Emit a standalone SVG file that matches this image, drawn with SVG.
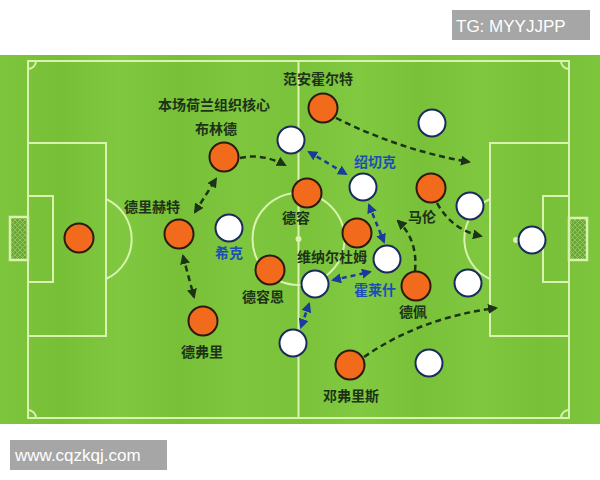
<svg xmlns="http://www.w3.org/2000/svg" width="600" height="480" viewBox="0 0 600 480">
<defs>
<style>
.line{fill:none;stroke:#d9f2b0;stroke-width:2}
.or{fill:#f26b1d;stroke:#2b1a0e;stroke-width:2}
.wh{fill:#ffffff;stroke:#1b2a5c;stroke-width:2}
.lbl{font-family:"Noto Sans CJK SC","Noto Sans",sans-serif;font-weight:bold;font-size:14px;fill:#1d3317;text-anchor:middle}
.blu{fill:#1b4fb5}
.ar{fill:none;stroke:#1d3317;stroke-width:2.5;stroke-dasharray:6 4}
.ab{fill:none;stroke:#1b3a9c;stroke-width:2.5;stroke-dasharray:5 4}
.wm{font-family:"Liberation Sans",Arial,sans-serif;font-size:17px;fill:#ffffff}
</style>
<marker id="ha" viewBox="0 0 10 10" refX="8" refY="5" markerWidth="4" markerHeight="4" orient="auto-start-reverse" markerUnits="strokeWidth">
<path d="M0,0 L10,5 L0,10 z" fill="#1d3317"/>
</marker>
<marker id="hb" viewBox="0 0 10 10" refX="8" refY="5" markerWidth="4" markerHeight="4" orient="auto-start-reverse" markerUnits="strokeWidth">
<path d="M0,0 L10,5 L0,10 z" fill="#1b3a9c"/>
</marker>
<pattern id="net" width="5" height="5" patternUnits="userSpaceOnUse">
<rect width="5" height="5" fill="#6aa83a"/>
<path d="M0,0 L5,5 M5,0 L0,5" stroke="#9ccc5c" stroke-width="0.8"/>
</pattern>
<linearGradient id="stripes" x1="0" y1="0" x2="1" y2="0">
<stop offset="0" stop-color="#7cc53c"/>
<stop offset="0.1" stop-color="#76bf37"/>
<stop offset="0.2" stop-color="#80c840"/>
<stop offset="0.3" stop-color="#77c038"/>
<stop offset="0.4" stop-color="#7ec63e"/>
<stop offset="0.5" stop-color="#79c23a"/>
<stop offset="0.6" stop-color="#80c940"/>
<stop offset="0.7" stop-color="#78c139"/>
<stop offset="0.8" stop-color="#7fc73f"/>
<stop offset="0.9" stop-color="#77c038"/>
<stop offset="1" stop-color="#7dc53d"/>
</linearGradient>
</defs>
<rect width="600" height="480" fill="#ffffff"/>
<g id="pitch">
<rect x="0" y="55" width="600" height="369" fill="url(#stripes)"/>
<rect class="line" x="28" y="61" width="541" height="357"/>
<line class="line" x1="298.5" y1="61" x2="298.5" y2="418"/>
<circle class="line" cx="298.5" cy="239" r="46"/>
<circle cx="298.5" cy="239" r="3" fill="#d9f2b0"/>
<rect class="line" x="28" y="143" width="78" height="193"/>
<rect class="line" x="28" y="196" width="25" height="86"/>
<path class="line" d="M106,199 A44,44 0 0 1 106,279"/>
<rect x="10" y="217" width="18" height="43" fill="url(#net)" stroke="#d9f2b0" stroke-width="2.5"/>
<rect class="line" x="490" y="143" width="79" height="193"/>
<rect class="line" x="543" y="196" width="26" height="86"/>
<path class="line" d="M490,199 A44,44 0 0 0 490,279"/>
<rect x="569" y="218" width="18" height="42" fill="url(#net)" stroke="#d9f2b0" stroke-width="2.5"/>
<circle cx="516" cy="240" r="3" fill="#d9f2b0"/>
<path class="line" d="M28,69 A8,8 0 0 0 36,61"/>
<path class="line" d="M561,61 A8,8 0 0 0 569,69"/>
<path class="line" d="M28,410 A8,8 0 0 1 36,418"/>
<path class="line" d="M561,418 A8,8 0 0 1 569,410"/>
</g>
<g id="connectors">
<path class="ar" d="M240,158 Q262,153 285,165" marker-end="url(#ha)"/>
<path class="ar" d="M336,118 Q400,150 469,162" marker-end="url(#ha)"/>
<path class="ar" d="M195,212 L216,179" marker-start="url(#ha)" marker-end="url(#ha)"/>
<path class="ar" d="M183,256 L194,297" marker-start="url(#ha)" marker-end="url(#ha)"/>
<path class="ar" d="M437,203 Q452,230 481,236" marker-end="url(#ha)"/>
<path class="ar" d="M415,271 Q418,240 398,221" marker-end="url(#ha)"/>
<path class="ar" d="M364,357 Q420,318 496,308" marker-end="url(#ha)"/>
<path class="ab" d="M309,152 L346,174" marker-start="url(#hb)" marker-end="url(#hb)"/>
<path class="ab" d="M369,205 L384,242" marker-start="url(#hb)" marker-end="url(#hb)"/>
<path class="ab" d="M333,280 L370,272" marker-start="url(#hb)" marker-end="url(#hb)"/>
<path class="ab" d="M309,304 L301,327" marker-start="url(#hb)" marker-end="url(#hb)"/>
</g>
<g id="nl-gk"><circle class="or" cx="79" cy="238" r="14.5"/></g>
<g id="blind"><circle class="or" cx="224" cy="157" r="14.5"/><text class="lbl" x="216" y="134">布林德</text><text class="lbl" x="214" y="110">本场荷兰组织核心</text></g>
<g id="deligt"><circle class="or" cx="179" cy="234" r="14.5"/><text class="lbl" x="152" y="212">德里赫特</text></g>
<g id="devrij"><circle class="or" cx="203" cy="321" r="14.5"/><text class="lbl" x="202" y="357">德弗里</text></g>
<g id="dejong-n"><circle class="or" cx="270" cy="270" r="14.5"/><text class="lbl" x="263" y="302">德容恩</text></g>
<g id="dejong"><circle class="or" cx="307" cy="193" r="14.5"/><text class="lbl" x="296" y="223">德容</text></g>
<g id="wijnaldum"><circle class="or" cx="357" cy="233" r="14.5"/><text class="lbl" x="332" y="262">维纳尔杜姆</text></g>
<g id="malen"><circle class="or" cx="431" cy="188" r="14.5"/><text class="lbl" x="422" y="222">马伦</text></g>
<g id="depay"><circle class="or" cx="416" cy="286" r="14.5"/><text class="lbl" x="413" y="317">德佩</text></g>
<g id="vanaanholt"><circle class="or" cx="323" cy="108" r="14.5"/><text class="lbl" x="318" y="84">范安霍尔特</text></g>
<g id="dumfries"><circle class="or" cx="350" cy="365" r="14.5"/><text class="lbl" x="351" y="401">邓弗里斯</text></g>
<g id="cz-1"><circle class="wh" cx="291" cy="140" r="13.5"/></g>
<g id="cz-2"><circle class="wh" cx="432" cy="123" r="13.5"/></g>
<g id="schick"><circle class="wh" cx="229" cy="228" r="13.5"/><text class="lbl blu" x="229" y="258">希克</text></g>
<g id="soucek"><circle class="wh" cx="363" cy="187" r="13.5"/><text class="lbl blu" x="375" y="167">绍切克</text></g>
<g id="holes"><circle class="wh" cx="387" cy="259" r="13.5"/><text class="lbl blu" x="375" y="295">霍莱什</text></g>
<g id="cz-3"><circle class="wh" cx="315" cy="284" r="13.5"/></g>
<g id="cz-4"><circle class="wh" cx="470" cy="206" r="13.5"/></g>
<g id="cz-gk"><circle class="wh" cx="532" cy="240" r="13.5"/></g>
<g id="cz-5"><circle class="wh" cx="468" cy="283" r="13.5"/></g>
<g id="cz-6"><circle class="wh" cx="293" cy="343" r="13.5"/></g>
<g id="cz-7"><circle class="wh" cx="429" cy="363" r="13.5"/></g>
<g id="watermarks">
<rect x="452" y="10" width="138" height="30" fill="#a6a6a6"/>
<text class="wm" x="456" y="32">TG: MYYJJPP</text>
<rect x="10" y="440" width="157" height="30" fill="#a6a6a6"/>
<text class="wm" x="15" y="461">www.cqzkqj.com</text>
</g>
</svg>
